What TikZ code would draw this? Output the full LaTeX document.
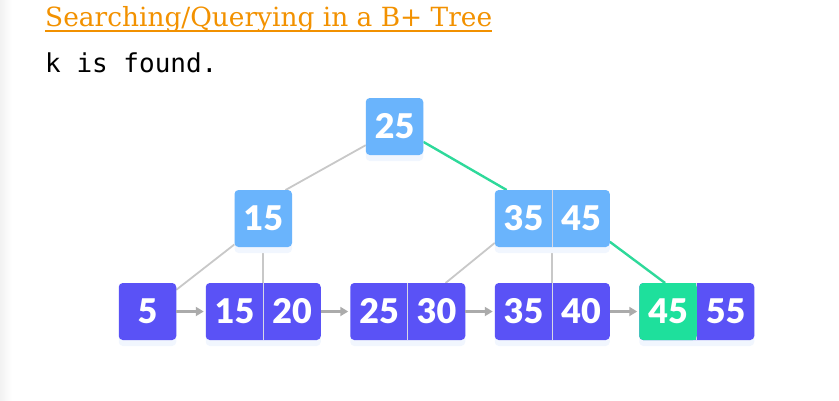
\documentclass[tikz,border=0pt]{standalone}
\usepackage{fontspec}
\usetikzlibrary{positioning,fit,arrows.meta,shadows}

\newfontfamily\titlefont{DejaVu Serif}
\newfontfamily\codefont{DejaVu Sans Mono}
\newfontfamily\keyfont{Lato Black}

\definecolor{titleorange}{HTML}{F29100}
\definecolor{innerblue}{HTML}{6AB4FC}
\definecolor{leafpurple}{HTML}{5A52F6}
\definecolor{foundgreen}{HTML}{1EE09C}
\definecolor{pathgreen}{HTML}{2ED99A}
\definecolor{edgegray}{HTML}{C8C8C8}
\definecolor{arrowgray}{HTML}{ABABAB}
\definecolor{splitgray}{HTML}{D8D8E4}
\definecolor{glowblue}{HTML}{F1F6FE}

\pgfdeclarelayer{edges}
\pgfdeclarelayer{boxes}
\pgfsetlayers{edges,boxes,main}

\tikzset{
  key/.style={minimum width=57.5pt, minimum height=57pt, inner sep=0pt, outer sep=0pt,
    text=white, font=\keyfont\fontsize{34}{34}\selectfont},
  box/.style={rounded corners=4pt, inner sep=0pt, outer sep=0pt,
    drop shadow={shadow xshift=0pt, shadow yshift=-6pt, fill=glowblue, opacity=1}},
  link/.style={edgegray, line width=1.8pt},
  pathlink/.style={pathgreen, line width=2.4pt},
  split/.style={splitgray, line width=1.2pt},
  nextptr/.style={arrowgray, line width=2.5pt, -{Triangle[length=8pt, width=9pt]}, shorten >=2pt}
}

\begin{document}
\begin{tikzpicture}[x=1pt, y=-1pt, node distance=29.5pt, auto]
      \useasboundingbox (0,0) rectangle (839,400);
      \fill[left color=gray!10, right color=white] (0,0) rectangle (12,400);

      % Heading
      \node (title) [anchor=base west, inner sep=0pt, text=titleorange,
        font=\titlefont\fontsize{26.4}{26.4}\selectfont] at (45,26) {Searching/Querying in a B+ Tree};
      \draw[titleorange, line width=2pt] ([yshift=-4.5pt]title.base west) -- ([yshift=-4.5pt]title.base east);
      \node (msg) [anchor=base west, inner sep=0pt,
        font=\codefont\fontsize{26}{26}\selectfont] at (45,72) {k is found.};

      % Root
      \node (root) [key, box, fill=innerblue] at (394.5,126.5) {25};

      % Inner nodes
      \node (mid1) [key, box, fill=innerblue] at (263.25,218.5) {15};
      \node (mid2a) [key] at (523.5,218.5) {35};
      \node (mid2b) [key, right=0pt of mid2a] {45};

      % Leaves
      \node (leaf1) [key, box, fill=leafpurple] at (147.5,311.5) {5};
      \node (leaf2a) [key, right=of leaf1] {15};
      \node (leaf2b) [key, right=0pt of leaf2a] {20};
      \node (leaf3a) [key, right=of leaf2b] {25};
      \node (leaf3b) [key, right=0pt of leaf3a] {30};
      \node (leaf4a) [key, right=of leaf3b] {35};
      \node (leaf4b) [key, right=0pt of leaf4a] {40};
      \node (leaf5a) [key, right=of leaf4b, fill=foundgreen, rounded corners=4pt] {45};
      \node (leaf5b) [key, right=0pt of leaf5a] {55};

      % Boxes round the keys
      \begin{pgfonlayer}{boxes}
        \node (mid2) [box, fill=innerblue, fit=(mid2a)(mid2b)] {};
        \node (leaf2) [box, fill=leafpurple, fit=(leaf2a)(leaf2b)] {};
        \node (leaf3) [box, fill=leafpurple, fit=(leaf3a)(leaf3b)] {};
        \node (leaf4) [box, fill=leafpurple, fit=(leaf4a)(leaf4b)] {};
        \node (leaf5) [box, fill=leafpurple, fit=(leaf5a)(leaf5b)] {};
        \fill[foundgreen] (leaf5a.north) rectangle (leaf5a.south east);
        \draw[split] (mid2a.north east) -- (mid2a.south east);
        \draw[split] (leaf2a.north east) -- (leaf2a.south east);
        \draw[split] (leaf3a.north east) -- (leaf3a.south east);
        \draw[split] (leaf4a.north east) -- (leaf4a.south east);
        \draw[split] (leaf5a.north east) -- (leaf5a.south east);
      \end{pgfonlayer}

      % Tree edges
      \begin{pgfonlayer}{edges}
        \draw[link] (root.213) -- (mid1.52);
        \draw[pathlink] (root.-28) -- (mid2.148);
        \draw[link] (mid1.222) -- (leaf1.37);
        \draw[link] (mid1.south) -- (leaf2a.north east);
        \draw[link] (mid2.203) -- (leaf3.37);
        \draw[link] (mid2a.south east) -- (leaf4a.north east);
        \draw[pathlink] (mid2.-22) -- (leaf5.138);
      \end{pgfonlayer}

      % Arrows
      \draw[nextptr] (leaf1) -- (leaf2a);
      \draw[nextptr] (leaf2b) -- (leaf3a);
      \draw[nextptr] (leaf3b) -- (leaf4a);
      \draw[nextptr] (leaf4b) -- (leaf5a);
   \end{tikzpicture}
\end{document}
